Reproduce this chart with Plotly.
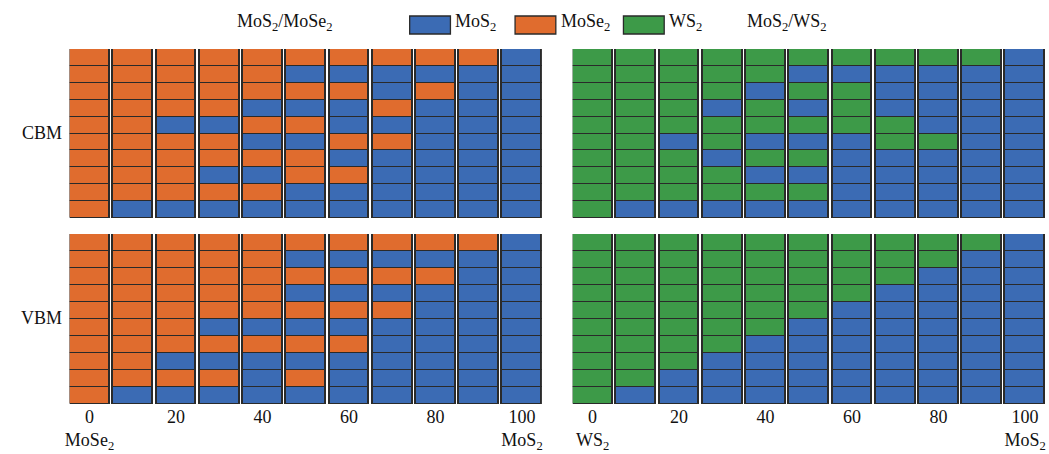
import plotly.graph_objects as go

# ---- data ----
# composition (% MoS2) of each column
compositions = [0, 10, 20, 30, 40, 50, 60, 70, 80, 90, 100]
tick_values = [0, 20, 40, 60, 80, 100]
tick_labels_left = ["0<br>MoSe<sub>2</sub>", "20", "40", "60", "80", "100<br>MoS<sub>2</sub>"]
tick_labels_right = ["0<br>WS<sub>2</sub>", "20", "40", "60", "80", "100<br>MoS<sub>2</sub>"]

# each string = one column, layers listed from top to bottom
# M = MoS2, S = MoSe2, W = WS2
cbm_mos2_mose2 = ["SSSSSSSSSS", "SSSSSSSSSM", "SSSSMSSSSM", "SSSSMSSMSM", "SSSMSMSMSM",
                  "SMSMSMSSMM", "SMSMMSMSMM", "SMMSMSMMMM", "SMSMMMMMMM", "SMMMMMMMMM",
                  "MMMMMMMMMM"]
cbm_mos2_ws2 = ["WWWWWWWWWW", "WWWWWWWWWM", "WWWWWMWWWM", "WWWMWWMWWM", "WWMWWMWMWM",
                "WMWMWMWMWM", "WMWWWMMMMM", "WMMMWWMMMM", "WMMMMWMMMM", "WMMMMMMMMM",
                "MMMMMMMMMM"]
vbm_mos2_mose2 = ["SSSSSSSSSS", "SSSSSSSSSM", "SSSSSSSMSM", "SSSSSMSMSM", "SSSSSMSMMM",
                  "SMSMSMSMSM", "SMSMSMSMMM", "SMSMSMMMMM", "SMSMMMMMMM", "SMMMMMMMMM",
                  "MMMMMMMMMM"]
vbm_mos2_ws2 = ["WWWWWWWWWW", "WWWWWWWWWM", "WWWWWWWWMM", "WWWWWWWMMM", "WWWWWWMMMM",
                "WWWWWMMMMM", "WWWWMMMMMM", "WWWMMMMMMM", "WWMMMMMMMM", "WMMMMMMMMM",
                "MMMMMMMMMM"]

material_names = {"M": "MoS<sub>2</sub>", "S": "MoSe<sub>2</sub>", "W": "WS<sub>2</sub>"}
legend_order = ["M", "S", "W"]

# ---- styles ----
COLORS = {"M": "#3b6bb4", "S": "#e06c2e", "W": "#3d9a48"}
EDGE = "#2a2a2a"
FONT = "Liberation Serif, Times New Roman, serif"

fig = go.Figure()

panels = [
    (cbm_mos2_mose2, "x", "y"),
    (cbm_mos2_ws2, "x2", "y2"),
    (vbm_mos2_mose2, "x3", "y3"),
    (vbm_mos2_ws2, "x4", "y4"),
]

n_layers = 10
for cols, xa, ya in panels:
    # stack from the bottom layer upward
    for layer in range(n_layers):
        idx = n_layers - 1 - layer  # index in top-to-bottom string
        mats = [c[idx] for c in cols]
        fig.add_trace(go.Bar(
            x=compositions, y=[1] * len(compositions),
            xaxis=xa, yaxis=ya, width=9.2,
            marker=dict(color=[COLORS[m] for m in mats], line=dict(color=EDGE, width=1.4)),
            showlegend=False, hoverinfo="skip",
        ))

W, H = 1049, 454
def px(x):
    return x / W
def py(y):
    return 1 - y / H

xl = [px(65), px(540)]
xr = [px(571), px(1046)]
yt = [py(218), py(49)]
yb = [py(404), py(234)]

xrange_ = [-4.6, 104.6]
common_x = dict(range=xrange_, showgrid=False, zeroline=False, showline=False, ticks="",
                tickfont=dict(family=FONT, size=18, color="#111"), fixedrange=True)
common_y = dict(range=[0, 10], showgrid=False, zeroline=False, showline=False,
                showticklabels=False, ticks="", fixedrange=True)

fig.update_layout(
    barmode="stack", bargap=0,
    width=W, height=H,
    margin=dict(l=0, r=0, t=0, b=0),
    paper_bgcolor="white", plot_bgcolor="white",
    showlegend=False,
    xaxis=dict(domain=xl, anchor="y", showticklabels=False, **common_x),
    yaxis=dict(domain=yt, anchor="x", **common_y),
    xaxis2=dict(domain=xr, anchor="y2", showticklabels=False, **common_x),
    yaxis2=dict(domain=yt, anchor="x2", **common_y),
    xaxis3=dict(domain=xl, anchor="y3", tickvals=tick_values, ticktext=tick_labels_left, **common_x),
    yaxis3=dict(domain=yb, anchor="x3", **common_y),
    xaxis4=dict(domain=xr, anchor="y4", tickvals=tick_values, ticktext=tick_labels_right, **common_x),
    yaxis4=dict(domain=yb, anchor="x4", **common_y),
)

annotations = [
    dict(text="CBM", x=px(37), y=py(133)),
    dict(text="VBM", x=px(37), y=py(318)),
    dict(text="MoS<sub>2</sub>/MoSe<sub>2</sub>", x=px(282), y=py(22)),
    dict(text="MoS<sub>2</sub>/WS<sub>2</sub>", x=px(787), y=py(22)),
]
# legend: swatch + label
legend_x = [407, 513, 622]
shapes = []
for lx, key in zip(legend_x, legend_order):
    shapes.append(dict(type="rect", xref="paper", yref="paper",
                       x0=px(lx), x1=px(lx + 41), y0=py(34), y1=py(16),
                       fillcolor=COLORS[key], line=dict(color=EDGE, width=1.3)))
    annotations.append(dict(text=material_names[key], x=px(lx + 44), y=py(22), xanchor="left"))

for a in annotations:
    a.setdefault("xanchor", "center")
    a.update(xref="paper", yref="paper", yanchor="middle", showarrow=False,
             font=dict(family=FONT, size=18, color="#111"))
fig.update_layout(annotations=annotations, shapes=shapes)

fig.write_html("out.html", config={"displayModeBar": False},
               post_script="document.body.style.margin='0';document.body.style.overflow='hidden';")
